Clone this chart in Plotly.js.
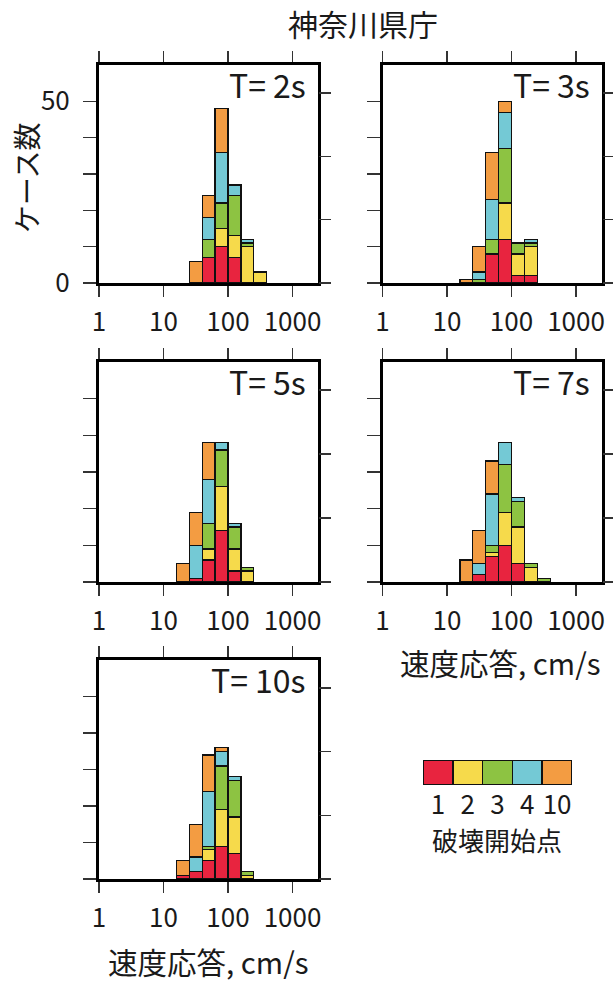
<!DOCTYPE html>
<html><head><meta charset="utf-8">
<script src="https://cdn.plot.ly/plotly-3.0.1.min.js"></script>
<style>html,body{margin:0;padding:0;background:#fff}</style>
</head><body><div id="chart" style="width:613px;height:983px"></div>
<script>
// ---- data ----
const chartTitle = "神奈川県庁";
const yTitle = "ケース数";
const xTitle = "速度応答, cm/s";
const legendTitle = "破壊開始点";
const startPoints = ["1", "2", "3", "4", "10"];          // 破壊開始点
const startColors = ["#E8243F", "#F6DA4B", "#8DC342", "#74C9D5", "#F39C42"];
const periodLabels = ["T= 2s", "T= 3s", "T= 5s", "T= 7s", "T= 10s"];
const xTickVals = [0, 1, 2, 3];                          // log10(cm/s)
const xTickText = ["1", "10", "100", "1000"];
const yTickVals = [0, 10, 20, 30, 40, 50];
const yTickText = ["0", "", "", "", "", "50"];
const rightTickVals = [0, 1, 2, 3];
const binWidthLog = 0.2;

// bin centres, log10 of velocity response (cm/s)
const binsT2  = [1.5, 1.7, 1.9, 2.1, 2.3, 2.5];
const t2_p1   = [0, 7, 10, 7, 0, 0];
const t2_p2   = [0, 0, 5, 6, 10, 3];
const t2_p3   = [0, 5, 7, 11, 1, 0];
const t2_p4   = [0, 6, 14, 3, 1, 0];
const t2_p10  = [6, 6, 12, 0, 0, 0];

const binsT3  = [1.3, 1.5, 1.7, 1.9, 2.1, 2.3];
const t3_p1   = [0, 0, 8, 12, 2, 2];
const t3_p2   = [0, 0, 0, 10, 6, 8];
const t3_p3   = [0, 1, 4, 15, 3, 1];
const t3_p4   = [0, 2, 11, 10, 0, 1];
const t3_p10  = [1, 7, 13, 3, 0, 0];

const binsT5  = [1.3, 1.5, 1.7, 1.9, 2.1, 2.3];
const t5_p1   = [0, 1, 6, 14, 3, 0];
const t5_p2   = [0, 0, 3, 12, 6, 3];
const t5_p3   = [0, 0, 7, 10, 6, 1];
const t5_p4   = [0, 9, 12, 2, 1, 0];
const t5_p10  = [5, 9, 10, 0, 0, 0];

const binsT7  = [1.3, 1.5, 1.7, 1.9, 2.1, 2.3, 2.5];
const t7_p1   = [0, 2, 7, 10, 5, 0, 0];
const t7_p2   = [0, 0, 1, 9, 10, 4, 0];
const t7_p3   = [0, 0, 2, 13, 7, 1, 1];
const t7_p4   = [0, 3, 14, 6, 1, 0, 0];
const t7_p10  = [6, 9, 9, 0, 0, 0, 0];

const binsT10 = [1.3, 1.5, 1.7, 1.9, 2.1, 2.3];
const t10_p1  = [1, 2, 5, 9, 7, 0];
const t10_p2  = [0, 0, 3, 10, 10, 1];
const t10_p3  = [0, 0, 1, 12, 10, 1];
const t10_p4  = [0, 4, 15, 4, 1, 0];
const t10_p10 = [4, 9, 10, 1, 0, 0];

const panels = [
  {bins: binsT2,  series: [t2_p1, t2_p2, t2_p3, t2_p4, t2_p10],      label: periodLabels[0]},
  {bins: binsT3,  series: [t3_p1, t3_p2, t3_p3, t3_p4, t3_p10],      label: periodLabels[1]},
  {bins: binsT5,  series: [t5_p1, t5_p2, t5_p3, t5_p4, t5_p10],      label: periodLabels[2]},
  {bins: binsT7,  series: [t7_p1, t7_p2, t7_p3, t7_p4, t7_p10],      label: periodLabels[3]},
  {bins: binsT10, series: [t10_p1, t10_p2, t10_p3, t10_p4, t10_p10], label: periodLabels[4]}
];

// ---- layout geometry (px) ----
const W = 613, H = 983;
const FONT = '"Noto Sans CJK JP", "Noto Sans", sans-serif';
const TXT = '#1a1a1a';
const colPx = [[99, 318.3], [382.5, 601.8]];
const rowPx = [[65, 283], [362, 582], [660, 879]];
const cell = [[0, 0], [1, 0], [0, 1], [1, 1], [0, 2]];
const fx = p => p / W;
const fy = p => 1 - p / H;

const traces = [];
const layout = {
  width: W, height: H,
  margin: {l: 0, r: 0, t: 0, b: 0},
  paper_bgcolor: '#fff', plot_bgcolor: '#fff',
  barmode: 'stack', bargap: 0,
  showlegend: false,
  font: {family: FONT, color: TXT},
  title: {text: chartTitle, font: {family: FONT, size: 30, color: TXT},
          x: fx(363), xanchor: 'center', xref: 'paper', y: fy(25), yanchor: 'middle', yref: 'container'},
  annotations: []
};

panels.forEach((p, i) => {
  const n = i + 1;
  const xs = n === 1 ? '' : String(n);
  const xa = 'x' + xs, ya = 'y' + xs;
  const [c, r] = cell[i];
  p.series.forEach((vals, k) => {
    traces.push({
      type: 'bar', x: p.bins, y: vals.map(v => v === 0 ? null : v),
      width: binWidthLog, xaxis: xa, yaxis: ya, name: startPoints[k],
      marker: {color: startColors[k], line: {color: '#111', width: 1.3}},
      hoverinfo: 'skip', showlegend: false
    });
  });
  // secondary right-hand axis (tick marks only)
  traces.push({type: 'scatter', mode: 'markers', x: [], y: [], xaxis: xa, yaxis: 'y' + (n + 5),
               showlegend: false, hoverinfo: 'skip'});
  layout['xaxis' + xs] = {
    domain: [fx(colPx[c][0]), fx(colPx[c][1])], anchor: ya,
    range: [0, 3.4], tickvals: xTickVals, ticktext: xTickText,
    ticks: 'outside', ticklen: 11, tickwidth: 1.3, tickcolor: '#333',
    tickfont: {family: FONT, size: 26, color: TXT}, ticklabelstandoff: 3,
    showline: true, linewidth: 3, linecolor: '#000', mirror: 'ticks',
    showgrid: false, zeroline: false, fixedrange: true
  };
  layout['yaxis' + xs] = {
    domain: [fy(rowPx[r][1]), fy(rowPx[r][0])], anchor: xa,
    range: [0, 60], tickvals: yTickVals, ticktext: yTickText,
    showticklabels: n === 1,
    ticks: 'outside', ticklen: 13, tickwidth: 1.3, tickcolor: '#333',
    tickfont: {family: FONT, size: 26, color: TXT}, ticklabelstandoff: 8,
    showline: true, linewidth: 3, linecolor: '#000', mirror: true,
    showgrid: false, zeroline: false, fixedrange: true
  };
  layout['yaxis' + (n + 5)] = {
    overlaying: ya, side: 'right', anchor: xa,
    range: [0, 3.44], tickvals: rightTickVals, showticklabels: false,
    ticks: 'outside', ticklen: 12, tickwidth: 1.3, tickcolor: '#333',
    showline: false, showgrid: false, zeroline: false, fixedrange: true
  };
  layout.annotations.push({
    text: p.label, xref: xa + ' domain', yref: ya + ' domain', x: 1, y: 1,
    xanchor: 'right', yanchor: 'middle', xshift: -10, yshift: -19, showarrow: false,
    font: {family: FONT, size: 32, color: TXT}
  });
});

// legend swatch as its own small bar axis
traces.push({
  type: 'bar', x: startPoints, y: startPoints.map(() => 1), width: 1,
  xaxis: 'x6', yaxis: 'y11',
  marker: {color: startColors, line: {color: '#111', width: 1.5}},
  hoverinfo: 'skip', showlegend: false
});
layout.xaxis6 = {
  domain: [fx(423), fx(572)], anchor: 'y11', type: 'category', range: [-0.5, 4.5],
  tickmode: 'array', tickvals: startPoints, ticktext: startPoints,
  ticks: '', showline: false, showgrid: false, zeroline: false, fixedrange: true,
  tickfont: {family: FONT, size: 26, color: TXT}, ticklabelstandoff: 2
};
layout.yaxis11 = {
  domain: [fy(785), fy(760)], anchor: 'x6', range: [0, 1],
  showticklabels: false, ticks: '', showline: false, showgrid: false, zeroline: false, fixedrange: true
};

// axis titles and legend title
layout.annotations.push(
  {text: yTitle, xref: 'paper', yref: 'paper', x: fx(26), y: fy(178), textangle: -90,
   xanchor: 'center', yanchor: 'middle', showarrow: false, font: {family: FONT, size: 28, color: TXT}},
  {text: xTitle, xref: 'paper', yref: 'paper', x: fx(500), y: fy(662),
   xanchor: 'center', yanchor: 'middle', showarrow: false, font: {family: FONT, size: 29.5, color: TXT}},
  {text: xTitle, xref: 'paper', yref: 'paper', x: fx(208.5), y: fy(961),
   xanchor: 'center', yanchor: 'middle', showarrow: false, font: {family: FONT, size: 29.5, color: TXT}},
  {text: legendTitle, xref: 'paper', yref: 'paper', x: fx(497), y: fy(839),
   xanchor: 'center', yanchor: 'middle', showarrow: false, font: {family: FONT, size: 26, color: TXT}}
);

Plotly.newPlot('chart', traces, layout, {displayModeBar: false, staticPlot: true});
</script>
</body></html>
